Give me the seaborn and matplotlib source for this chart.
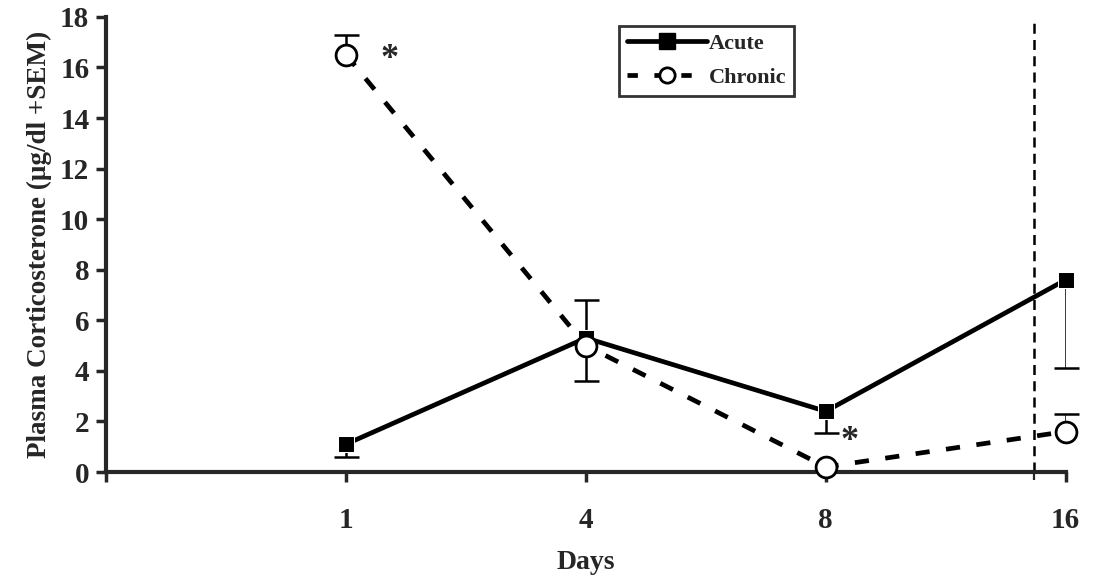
import numpy as np
import pandas as pd
import seaborn as sns
import matplotlib.pyplot as plt

days = ['1', '4', '8', '16']
acute = [1.1, 5.3, 2.4, 7.6]
acute_err_lo = [0.5, 0.0, 0.85, 3.5]
acute_err_hi = [0.0, 1.5, 0.0, 0.0]
chronic = [16.5, 5.0, 0.2, 1.6]
chronic_err_lo = [0.0, 1.4, 0.0, 0.0]
chronic_err_hi = [0.8, 0.0, 0.0, 0.7]
stars = [(1.18, 16.3), (3.1, 1.2)]

sns.set_theme(style='ticks')
plt.rcParams['font.family'] = ['Liberation Serif', 'DejaVu Serif']
plt.rcParams['font.weight'] = 'bold'

pos = np.arange(1, len(days) + 1)
df = pd.DataFrame({'pos': np.concatenate([pos, pos]),
                   'value': acute + chronic,
                   'group': ['Acute'] * 4 + ['Chronic'] * 4})

fig = plt.figure(figsize=(10.93, 5.82), dpi=100)
ax = fig.add_axes([0.097, 0.189, 0.878, 0.782])

ax.axvline(3.867, color='black', lw=1.8, ls=(0, (4, 2.5)), zorder=1)

sns.lineplot(data=df, x='pos', y='value', hue='group', style='group',
             palette={'Acute': 'black', 'Chronic': 'black'},
             dashes={'Acute': '', 'Chronic': (3, 3.5)},
             markers={'Acute': 's', 'Chronic': 'o'}, legend=False,
             lw=3.4, ax=ax, zorder=3)
lines = [l for l in ax.lines if len(l.get_xdata()) == 4]
lines[0].set_markersize(12)
lines[0].set_markerfacecolor('black')
lines[1].set_markersize(15)
lines[1].set_markerfacecolor('white')
lines[1].set_markeredgecolor('black')
lines[1].set_markeredgewidth(2)
lines[1].set_zorder(4)
for l in lines:
    l.set_clip_on(False)


# one-sided SEM bars: stem + a single cap at the far end
def draw_err(vals, lo, hi):
    v = np.array(vals)
    for d in (-np.array(lo), np.array(hi)):
        m = d != 0
        ax.vlines(pos[m], v[m], v[m] + d[m], color='black', lw=1.8, zorder=2)
        ax.plot(pos[m], v[m] + d[m], ls='none', marker='_', ms=18, mew=1.8,
                color='black', zorder=2, clip_on=False)


draw_err(acute, acute_err_lo, acute_err_hi)
draw_err(chronic, chronic_err_lo, chronic_err_hi)

for x, y in stars:
    ax.text(x, y, '*', fontsize=26, fontweight='bold', ha='center', va='center')

ax.set_xlim(0, 4)
ax.set_ylim(0, 18)
ax.set_xticks([0] + list(pos))
ax.set_xticklabels([''] + days)
ax.set_xticks([3.867], minor=True)
ax.set_yticks(np.arange(0, 19, 2))
ax.tick_params(axis='both', labelsize=21, width=2.5, length=7, direction='out', pad=5)
ax.tick_params(axis='x', which='minor', width=1.6, length=6)
ax.tick_params(axis='x', pad=18)
for s in ['top', 'right']:
    ax.spines[s].set_visible(False)
for s in ['left', 'bottom']:
    ax.spines[s].set_linewidth(3)
for t in ax.get_xticklabels() + ax.get_yticklabels():
    t.set_fontweight('bold')

ax.set_xlabel('Days', fontsize=20, fontweight='bold', labelpad=12)
ax.set_ylabel('Plasma Corticosterone (μg/dl +SEM)', fontsize=19.5, fontweight='bold', labelpad=6)

h1, = ax.plot([], [], color='black', lw=3.4, marker='s', ms=12)
h2, = ax.plot([], [], color='black', lw=3.4, ls=(0, (2.2, 3.5)), marker='o', ms=11,
              mfc='white', mec='black', mew=2)
leg = ax.legend([h1, h2], ['Acute', 'Chronic'], loc='upper left',
                bbox_to_anchor=(0.53, 0.99), prop={'size': 16, 'weight': 'bold'},
                frameon=True, fancybox=False, handlelength=3.6, handletextpad=0.1,
                borderpad=0.35, labelspacing=0.6, borderaxespad=0.2)
leg.get_frame().set_edgecolor('black')
leg.get_frame().set_linewidth(2)

fig.savefig('out.png', dpi=100)
